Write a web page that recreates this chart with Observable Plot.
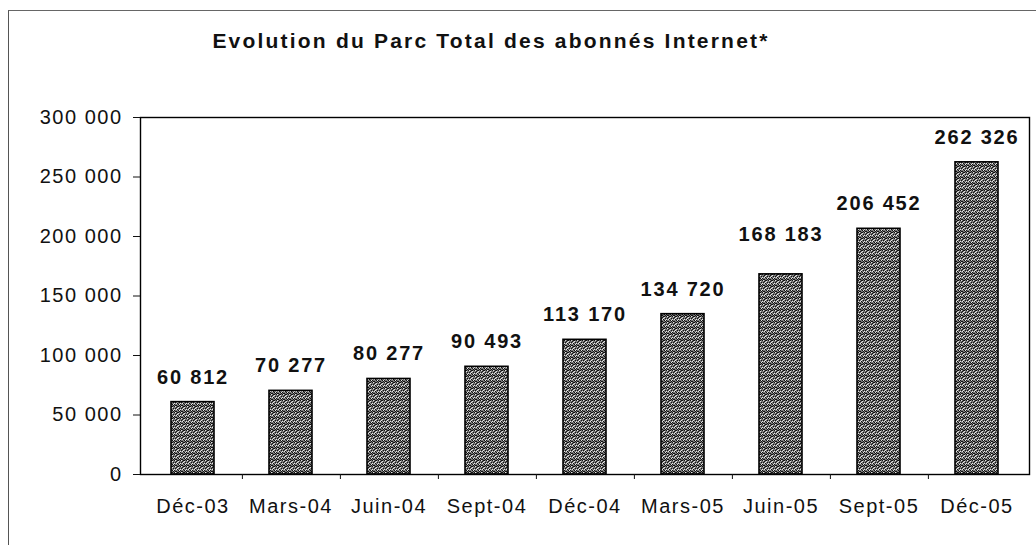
<!DOCTYPE html>
<html>
<head>
<meta charset="utf-8">
<script src="https://cdn.jsdelivr.net/npm/d3@7"></script>
<script src="https://cdn.jsdelivr.net/npm/@observablehq/plot@0.6"></script>
<style>
  body { margin: 0; background: #fff; font-family: "Liberation Sans", Arial, sans-serif; }
  #wrap { position: relative; width: 1036px; height: 545px; overflow: hidden; }
  #outer { position: absolute; left: 8px; top: 10px; width: 1100px; height: 600px;
           border-left: 1.5px solid #555; border-top: 1.5px solid #666; }
  #title { position: absolute; top: 29px; left: 0; width: 982px; text-align: center;
           font-size: 21px; font-weight: bold; letter-spacing: 2.2px; color: #111; }
  #chart { position: absolute; top: 100px; left: 0; }
  #chart text { letter-spacing: 1.5px; }
  #chart g[aria-label="text"] text { letter-spacing: 1.8px; }
</style>
</head>
<body>
<div id="wrap">
  <div id="outer"></div>
  <div id="title">Evolution du Parc Total des abonnés Internet*</div>
  <div id="chart"></div>
</div>
<script>
const periods = ["Déc-03", "Mars-04", "Juin-04", "Sept-04", "Déc-04", "Mars-05", "Juin-05", "Sept-05", "Déc-05"];
const abonnes = [60812, 70277, 80277, 90493, 113170, 134720, 168183, 206452, 262326];
const yTicks = [0, 50000, 100000, 150000, 200000, 250000, 300000];

const data = periods.map((p, i) => ({period: p, value: abonnes[i]}));
const fmt = v => d3.format(",")(v).replace(/,/g, " ");

const chart = Plot.plot({
  width: 1036,
  height: 445,
  marginTop: 17,
  marginBottom: 71,
  marginLeft: 140,
  marginRight: 7,
  style: {fontFamily: "'Liberation Sans', Arial, sans-serif", fontSize: "20px", color: "#111", background: "transparent"},
  x: {domain: periods, paddingInner: 0.565, paddingOuter: 0.2825, label: null},
  y: {domain: [0, 300000], label: null},
  marks: [
    Plot.barY(data, {x: "period", y: "value", fill: "url(#stipple)", stroke: "#000", strokeWidth: 1.6}),
    Plot.frame({stroke: "#000", strokeWidth: 1.4}),
    Plot.axisY({ticks: yTicks, tickFormat: fmt, tickSize: 7, tickPadding: 11, fontSize: 20, label: null}),
    Plot.axisX({tickSize: 0, tickPadding: 24, fontSize: 20, label: null}),
    Plot.axisX({tickSize: 5, text: null, dx: 49.4, label: null, filter: d => d !== "Déc-05"}),
    Plot.text(data, {x: "period", y: "value", text: d => fmt(d.value), dy: -25, fontWeight: "bold", fontSize: 20,
                     filter: d => d.period !== "Juin-05"}),
    Plot.text(data, {x: "period", y: "value", text: d => fmt(d.value), dy: -40, fontWeight: "bold", fontSize: 20,
                     filter: d => d.period === "Juin-05"})
  ]
});

// stipple pattern (style only) for the bars
const svg = d3.select(chart);
const defs = svg.insert("defs", ":first-child");
const pat = defs.append("pattern").attr("id", "stipple").attr("patternUnits", "userSpaceOnUse")
  .attr("width", 6).attr("height", 6);
pat.append("rect").attr("width", 6).attr("height", 6).attr("fill", "#7a7a7a");
const dark = [[0,0],[2,1],[4,0],[1,2],[3,3],[5,2],[0,4],[2,5],[4,4],[5,5],[1,5],[3,0]];
const light = [[1,0],[3,2],[5,4],[0,3],[2,3],[4,1]];
dark.forEach(([x, y]) => pat.append("rect").attr("x", x).attr("y", y).attr("width", 1).attr("height", 1).attr("fill", "#111"));
light.forEach(([x, y]) => pat.append("rect").attr("x", x).attr("y", y).attr("width", 1).attr("height", 1).attr("fill", "#e6e6e6"));

document.getElementById("chart").appendChild(chart);
</script>
</body>
</html>
